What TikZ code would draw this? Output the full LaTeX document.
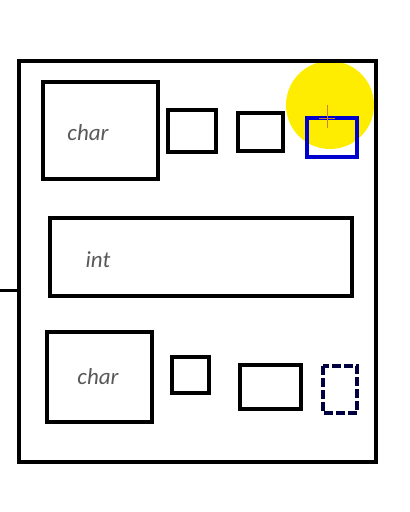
\documentclass[tikz,border=0pt]{standalone}
\usepackage{fontspec}
\setmainfont{Carlito}
\begin{document}
\begin{tikzpicture}[x=1pt,y=-1pt,
  frame/.style={draw=black,line width=4.5pt},
  cell/.style={draw=black,line width=4.5pt},
  lbl/.style={text=black!65,font=\itshape\fontsize{23}{25}\selectfont,inner sep=0pt}]
\useasboundingbox (0,0) rectangle (410,512);
\fill[white] (0,0) rectangle (410,512);
% yellow highlight
\fill[yellow!95!orange] (330,105) circle (44);
% outer frame
\draw[frame] (19,61) rectangle (376,462);
\coordinate (stubL) at (0,290);
\coordinate (stubR) at (19,290);
\draw[line width=3pt] (stubL) -- (stubR);
% top row
\draw[cell] (43,82) rectangle (158,179);
\node[lbl] (c1) at (88,133) {char};
\draw[cell] (168,110) rectangle (216,152);
\draw[cell] (238,113) rectangle (283,151);
\draw[draw=blue!80!black,line width=4pt] (307,118) rectangle (357,157);
\draw[draw=orange!60!gray,line width=1pt] (327,105) -- (327,128);
\draw[draw=orange!60!gray,line width=1pt] (319,118) -- (335,118);
% int row
\draw[cell] (50,218) rectangle (352,296);
\node[lbl] (i1) at (98,260) {int};
% bottom row
\draw[cell] (47,332) rectangle (152,422);
\node[lbl] (c2) at (98,377) {char};
\draw[cell] (172,357) rectangle (209,393);
\draw[cell] (240,365) rectangle (301,409);
\draw[draw=black!75!blue,line width=3.5pt,dash pattern=on 9pt off 3pt] (323,366) rectangle (357,413);
\end{tikzpicture}
\end{document}
